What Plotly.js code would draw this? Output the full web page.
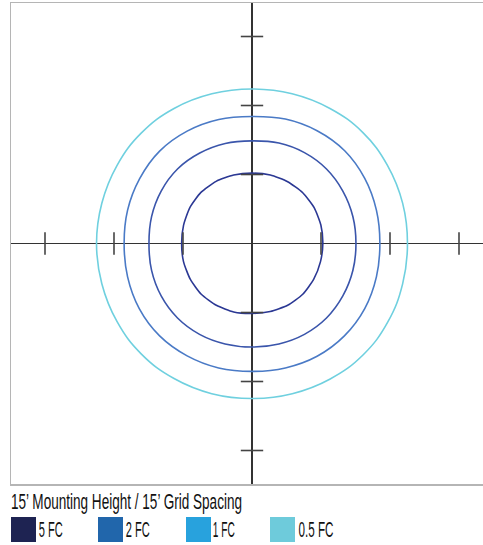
<!DOCTYPE html>
<html><head><meta charset="utf-8">
<script src="https://cdn.plot.ly/plotly-3.0.1.min.js"></script>
<style>html,body{margin:0;padding:0;overflow:hidden;background:#fff}#chart{width:495px;height:545px}</style>
</head><body><div id="chart"></div><script>
// angles in degrees (counter-clockwise from +x) at which contour radii were read
const angles = [0,15,30,45,60,75,90,105,120,135,150,165,180,195,210,225,240,255,270,285,300,315,330,345];
// contour radii in feet (15' grid spacing)
const r5fc  = [15.4,15.5,15.6,15.6,15.5,15.4,15.3,15.4,15.6,15.7,15.6,15.4,15.3,15.4,15.5,15.6,15.5,15.4,15.2,15.3,15.5,15.6,15.5,15.4];
const r2fc  = [22.6,22.7,22.8,22.9,22.8,22.6,22.3,22.5,22.7,22.9,22.8,22.6,22.4,22.6,22.8,22.9,22.8,22.6,22.5,22.6,22.8,22.9,22.8,22.7];
const r1fc  = [27.8,28.0,28.3,28.5,28.3,28.0,27.6,27.9,28.2,28.4,28.2,28.0,27.8,28.0,28.3,28.4,28.2,28.0,27.8,28.0,28.3,28.4,28.3,28.0];
const r05fc = [33.8,33.9,34.0,34.1,33.9,33.7,33.6,33.7,33.9,34.0,33.9,33.8,33.8,33.8,33.9,34.0,33.9,33.8,33.7,33.8,34.0,34.2,34.1,33.9];
const contourRadii = [r5fc, r2fc, r1fc, r05fc];
const contourColors = ['#2b3894','#3a55ab','#4a7ac6','#6fd0df'];
const contourSmoothing = [0.6, 1, 1, 1.2];
const tickPositions = [-45,-30,-15,15,30,45];
const legendLabels = ['5 FC','2 FC','1 FC','0.5 FC'];
const legendColors = ['#1e2352','#2166ab','#28a2dd','#6ecbdb'];
const titleText = '15\u2019 Mounting Height / 15\u2019 Grid Spacing';

const traces = [];
contourRadii.forEach((rs, i) => {
  const xs = [], ys = [];
  rs.concat([rs[0]]).forEach((r, k) => {
    const a = angles[k % angles.length] * Math.PI / 180;
    xs.push(r * Math.cos(a)); ys.push(r * Math.sin(a));
  });
  traces.push({type:'scatter', mode:'lines', x:xs, y:ys, showlegend:false, hoverinfo:'skip',
    line:{color:contourColors[i], width:1.6, shape:'spline', smoothing:contourSmoothing[i]}});
});
// tick marks on the crosshair axes
traces.push({type:'scatter', mode:'markers', x:tickPositions, y:tickPositions.map(()=>0), showlegend:false,
  marker:{symbol:'line-ns-open', size:16, color:'#444', line:{color:'#444', width:1.6}}});
traces.push({type:'scatter', mode:'markers', x:tickPositions.map(()=>0), y:tickPositions, showlegend:false,
  marker:{symbol:'line-ew-open', size:16, color:'#444', line:{color:'#444', width:1.6}}});

// layout geometry in pixels
const L = 11, T = 3, PW = 482, PH = 481, W = 495, H = 545;
const px = v => (v - L) / PW;
const py = v => (T + PH - v) / PH;
const pxPerFt = 69 / 15;
const xr = PW / 2 / pxPerFt, yr = PH / 2 / pxPerFt;

const swatchX = [11, 98, 186, 270];
const labelCX = [51, 138, 224, 315.5];
const labelW = [24, 24, 22, 35];
const shapes = legendLabels.map((lab, i) => ({
  type:'rect', xref:'paper', yref:'paper', x0:px(swatchX[i]), x1:px(swatchX[i]+25), y0:py(542), y1:py(517),
  fillcolor:legendColors[i], line:{width:0}
}));
const fnt = {family:'Liberation Sans Narrow, Arial Narrow, sans-serif', size:22, color:'#111'};
const annotations = [{text:titleText, xref:'paper', yref:'paper', x:px(11+231/2), y:py(502), xanchor:'center', yanchor:'middle', showarrow:false, font:fnt}]
  .concat(legendLabels.map((lab, i) => ({text:lab, xref:'paper', yref:'paper', x:px(labelCX[i]), y:py(529.5), xanchor:'center', yanchor:'middle', showarrow:false, font:fnt})));
const textWidths = [231].concat(labelW);

const axis = {showgrid:false, zeroline:true, zerolinecolor:'#333', zerolinewidth:1.6, showticklabels:false, ticks:'',
  showline:true, mirror:true, linecolor:'#b5b5b5', linewidth:1.5, fixedrange:true};
const layout = {
  width:W, height:H, margin:{l:L, r:W-L-PW, t:T, b:H-T-PH}, paper_bgcolor:'#fff', plot_bgcolor:'#fff',
  xaxis:Object.assign({range:[-xr, xr]}, axis),
  yaxis:Object.assign({range:[-yr, yr]}, axis),
  shapes:shapes, annotations:annotations, showlegend:false
};
Plotly.newPlot('chart', traces, layout, {staticPlot:true, displayModeBar:false}).then(gd => {
  const texts = gd.querySelectorAll('.annotation-text');
  texts.forEach((t, i) => {
    t.setAttribute('textLength', textWidths[i]);
    t.setAttribute('lengthAdjust', 'spacingAndGlyphs');
  });
});
</script></body></html>
